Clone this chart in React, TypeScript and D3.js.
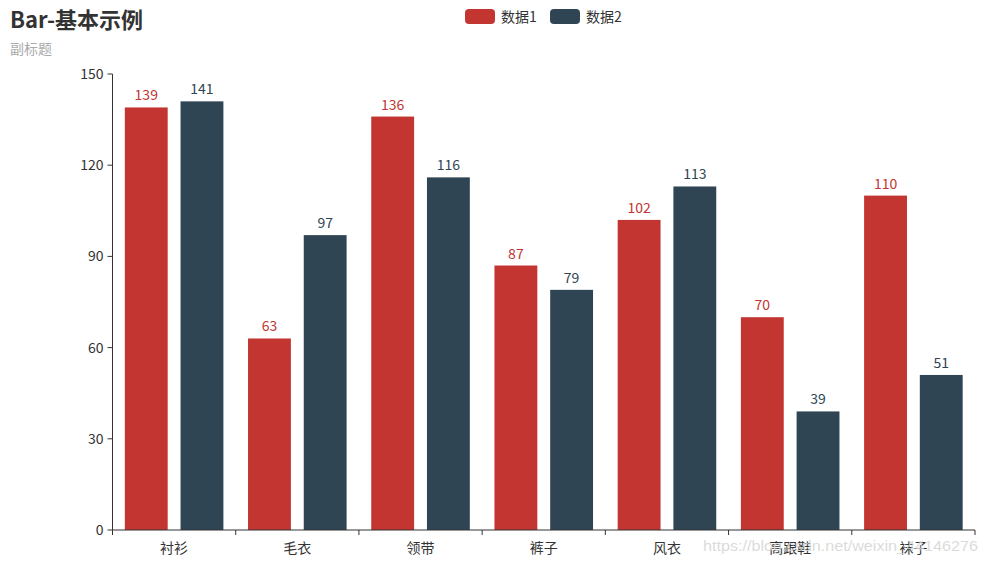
import React from "react";
import * as d3 from "d3";

const width = 989;
const height = 564;
const margin = { top: 74, right: 14, bottom: 34, left: 112.5 };
const fontFamily = "'Noto Sans CJK SC', 'Noto Sans', sans-serif";

const categories = ["衬衫", "毛衣", "领带", "裤子", "风衣", "高跟鞋", "袜子"];
const seriesNames = ["数据1", "数据2"];
const data1 = [139, 63, 136, 87, 102, 70, 110];
const data2 = [141, 97, 116, 79, 113, 39, 51];
const yTicks = [0, 30, 60, 90, 120, 150];
const colors = ["#c23531", "#2f4554"];

const series = [data1, data2];

const x = d3
  .scaleBand<string>()
  .domain(categories)
  .range([margin.left, width - margin.right]);

const y = d3
  .scaleLinear()
  .domain([0, 150])
  .range([height - margin.bottom, margin.top]);

// echarts-like bar layout: 20% category gap, 30% bar gap
const catW = x.bandwidth();
const barW = (catW * 0.8) / (series.length + 0.3 * (series.length - 1));
const barOffset = (i: number) => catW * 0.1 + i * barW * 1.3;

const App = () => {
  const baseY = y(0);
  return (
    <svg width={width} height={height} style={{ position: "absolute", left: 0, top: 0, fontFamily }}>
      <rect width={width} height={height} fill="#fff" />
      {/* title */}
      <text x={10} y={28} fontSize={22} fontWeight="bold" fill="#333">Bar-基本示例</text>
      <text x={10} y={54} fontSize={14} fill="#aaa">副标题</text>

      {/* legend */}
      {seriesNames.map((name, i) => (
        <g key={name} transform={`translate(${465 + i * 85},9)`}>
          <rect width={30} height={15} rx={4} fill={colors[i]} />
          <text x={36} y={12.5} fontSize={14} fill="#333">{name}</text>
        </g>
      ))}

      {/* bars */}
      {series.map((vals, si) =>
        vals.map((v, ci) => {
          const bx = (x(categories[ci]) as number) + barOffset(si);
          return (
            <g key={`${si}-${ci}`}>
              <rect x={bx} y={y(v)} width={barW} height={baseY - y(v)} fill={colors[si]} />
              <text x={bx + barW / 2} y={y(v) - 7} fontSize={14} textAnchor="middle" fill={colors[si]}>{v}</text>
            </g>
          );
        })
      )}

      {/* y axis */}
      <line x1={margin.left} x2={margin.left} y1={margin.top} y2={baseY} stroke="#333" />
      {yTicks.map((t) => (
        <g key={t} transform={`translate(${margin.left},${y(t)})`}>
          <line x1={-5} x2={0} stroke="#333" />
          <text x={-9} dy="0.35em" fontSize={14} textAnchor="end" fill="#333">{t}</text>
        </g>
      ))}

      {/* x axis */}
      <line x1={margin.left} x2={width - margin.right} y1={baseY} y2={baseY} stroke="#333" />
      {[...categories.map((c) => x(c) as number), width - margin.right].map((px, i) => (
        <line key={i} x1={px} x2={px} y1={baseY} y2={baseY + 5} stroke="#333" />
      ))}
      {categories.map((c) => (
        <text key={c} x={(x(c) as number) + catW / 2} y={baseY + 23} fontSize={14} textAnchor="middle" fill="#333">{c}</text>
      ))}

      {/* watermark */}
      <text
        x={703}
        y={551}
        fontSize={15}
        fontFamily="'Liberation Sans', Arial, sans-serif"
        textLength={275}
        lengthAdjust="spacingAndGlyphs"
        fill="#d4d4d4"
        fillOpacity={0.85}
      >
        https://blog.csdn.net/weixin_44146276
      </text>
    </svg>
  );
};

export default App;
